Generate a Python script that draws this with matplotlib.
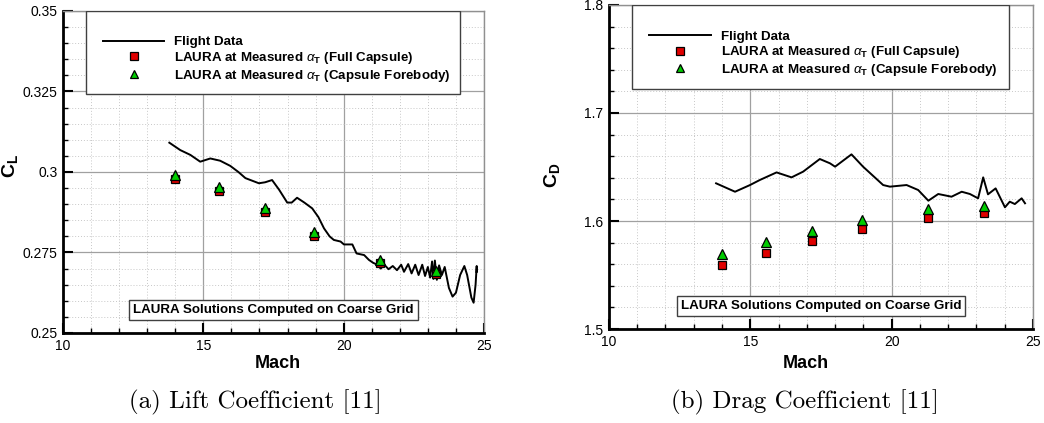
import matplotlib
matplotlib.use("Agg")
import matplotlib.pyplot as plt
from matplotlib.ticker import MultipleLocator, FuncFormatter
from matplotlib.patches import Rectangle

plt.rcParams['font.family'] = ['Liberation Sans', 'DejaVu Sans']
plt.rcParams['mathtext.fontset'] = 'custom'
plt.rcParams['mathtext.rm'] = 'Liberation Sans'
plt.rcParams['mathtext.bf'] = 'Liberation Sans:bold'
plt.rcParams['mathtext.it'] = 'Liberation Sans:italic'

# ---- data: lift coefficient (a)
lift_mach = [13.79, 14.18, 14.54, 14.89, 15.25, 15.6, 15.96, 16.25, 16.5, 16.98,
             17.2, 17.45, 17.7, 17.99, 18.15, 18.34, 18.6, 18.88, 19.1, 19.3,
             19.5, 19.65, 19.89, 20.01, 20.31, 20.46, 20.73, 20.9, 21.05, 21.2,
             21.32, 21.45, 21.6, 21.75, 21.9, 22.05, 22.15, 22.3, 22.42, 22.55,
             22.67, 22.8, 22.9, 23.0, 23.08, 23.15, 23.2, 23.25, 23.32, 23.4,
             23.5, 23.6, 23.75, 23.88, 24.0, 24.15, 24.3, 24.4, 24.55, 24.63,
             24.7, 24.74, 24.74]
lift_cl = [0.3091, 0.3068, 0.3053, 0.3032, 0.3042, 0.3035, 0.3019, 0.3000, 0.2981, 0.2965,
           0.2968, 0.2975, 0.2945, 0.2905, 0.2905, 0.2920, 0.2905, 0.2887, 0.2860, 0.2825,
           0.2800, 0.2789, 0.2784, 0.2775, 0.2775, 0.2747, 0.2742, 0.2727, 0.2718, 0.2712,
           0.2700, 0.2712, 0.2698, 0.2708, 0.2695, 0.2712, 0.2690, 0.2714, 0.2685, 0.2712,
           0.2680, 0.2712, 0.2677, 0.2705, 0.2672, 0.2722, 0.2668, 0.2725, 0.2665, 0.2710,
           0.2680, 0.2705, 0.2640, 0.2613, 0.2625, 0.2680, 0.2708, 0.2680, 0.2610, 0.2594,
           0.2650, 0.2708, 0.2690]
laura_mach_l = [14.0, 15.55, 17.2, 18.96, 21.3, 23.3]
full_cl = [0.2977, 0.2940, 0.2877, 0.2802, 0.2718, 0.2682]
fore_cl = [0.2991, 0.2953, 0.2889, 0.2814, 0.2727, 0.2692]

# ---- data: drag coefficient (b)
drag_mach = [13.79, 14.46, 14.99, 15.34, 15.93, 16.46, 16.87, 17.46, 17.82, 18.0,
             18.58, 18.99, 19.7, 19.94, 20.53, 20.94, 21.3, 21.65, 22.12, 22.48,
             22.77, 23.06, 23.24, 23.41, 23.68, 24.01, 24.18, 24.36, 24.6, 24.72]
drag_cd = [1.6349, 1.6271, 1.6333, 1.6380, 1.6450, 1.6404, 1.6457, 1.6574, 1.6534, 1.6503,
           1.6617, 1.6503, 1.6333, 1.6318, 1.6333, 1.6287, 1.6188, 1.6250, 1.6225, 1.6271,
           1.6250, 1.6210, 1.6404, 1.6247, 1.6302, 1.6127, 1.6179, 1.6157, 1.6210, 1.6164]
laura_mach_d = [14.0, 15.55, 17.2, 18.96, 21.3, 23.27]
full_cd = [1.559, 1.570, 1.5815, 1.593, 1.6025, 1.607]
fore_cd = [1.5695, 1.5803, 1.5907, 1.601, 1.6108, 1.6139]

legend_labels = ['Flight Data',
                 r'LAURA at Measured $\alpha_\mathregular{T}$ (Full Capsule)',
                 r'LAURA at Measured $\alpha_\mathregular{T}$ (Capsule Forebody)']
note = 'LAURA Solutions Computed on Coarse Grid'

fig = plt.figure(figsize=(10.44, 4.23), dpi=100)
ax1 = fig.add_axes([0.0603, 0.2128, 0.4033, 0.7612])
ax2 = fig.add_axes([0.5833, 0.2222, 0.4061, 0.7660])


def style_axes(ax, ylim, ymajor, yminor):
    ax.set_xlim(10, 25)
    ax.set_ylim(*ylim)
    ax.xaxis.set_major_locator(MultipleLocator(5))
    ax.xaxis.set_minor_locator(MultipleLocator(1))
    ax.yaxis.set_major_locator(MultipleLocator(ymajor))
    ax.yaxis.set_minor_locator(MultipleLocator(yminor))
    ax.yaxis.set_major_formatter(FuncFormatter(lambda v, p: '%g' % round(v, 4)))
    ax.grid(which='major', color='#a0a0a0', lw=0.9, ls='-')
    ax.grid(which='minor', color='#c8c8c8', lw=0.7, ls=(0, (1, 2)))
    ax.set_axisbelow(True)
    for s in ['left', 'bottom']:
        ax.spines[s].set_linewidth(2)
        ax.spines[s].set_color('black')
    for s in ['top', 'right']:
        ax.spines[s].set_linewidth(1)
        ax.spines[s].set_color('#909090')
    ax.tick_params(which='major', direction='in', length=7, width=1.5,
                   labelsize=10, pad=4, top=False, right=False)
    ax.tick_params(which='minor', direction='in', length=3.5, width=1,
                   top=False, right=False)


def draw(ax, mach, coef, lmach, full, fore):
    h1, = ax.plot(mach, coef, color='black', lw=1.4)
    h2, = ax.plot(lmach, full, ls='none', marker='s', ms=6, mfc='#e00000',
                  mec='black', mew=0.9, zorder=4)
    h3, = ax.plot(lmach, fore, ls='none', marker='^', ms=6.5, mfc='#00cc00',
                  mec='black', mew=0.9, zorder=5)
    box = Rectangle((0.054, 0.742), 0.889, 0.258, transform=ax.transAxes,
                    facecolor='white', edgecolor='#404040', lw=1, zorder=6)
    ax.add_patch(box)
    leg = ax.legend([h1, h2, h3], legend_labels, loc='upper left',
                    bbox_to_anchor=(0.095, 0.922), frameon=False,
                    prop={'weight': 'bold', 'size': 9.6}, handlelength=4.6,
                    handletextpad=0.75, labelspacing=0.12, borderpad=0,
                    borderaxespad=0, markerscale=0.85)
    leg.set_zorder(7)
    ax.text(0.5, 0.07, note, transform=ax.transAxes, ha='center', va='center',
            fontsize=9.6, fontweight='bold', zorder=7,
            bbox=dict(boxstyle='square,pad=0.3', fc='white', ec='#404040', lw=1))


style_axes(ax1, (0.25, 0.35), 0.025, 0.005)
draw(ax1, lift_mach, lift_cl, laura_mach_l, full_cl, fore_cl)
ax1.set_xlabel('Mach', fontsize=13, fontweight='bold')
ax1.xaxis.set_label_coords(0.51, -0.068)
ax1.set_ylabel(r'$\mathbf{C_L}$', fontsize=14)
ax1.yaxis.set_label_coords(-0.102, 0.52)

style_axes(ax2, (1.5, 1.8), 0.1, 0.02)
draw(ax2, drag_mach, drag_cd, laura_mach_d, full_cd, fore_cd)
ax2.set_xlabel('Mach', fontsize=13, fontweight='bold')
ax2.xaxis.set_label_coords(0.465, -0.08)
ax2.set_ylabel(r'$\mathbf{C_D}$', fontsize=14)
ax2.yaxis.set_label_coords(-0.111, 0.475)

fig.text(0.245, 0.05, '(a) Lift Coefficient [11]', family='cmr10', fontsize=18,
         ha='center', va='center')
fig.text(0.771, 0.05, '(b) Drag Coefficient [11]', family='cmr10', fontsize=18,
         ha='center', va='center')

fig.savefig('out.png', dpi=100)
